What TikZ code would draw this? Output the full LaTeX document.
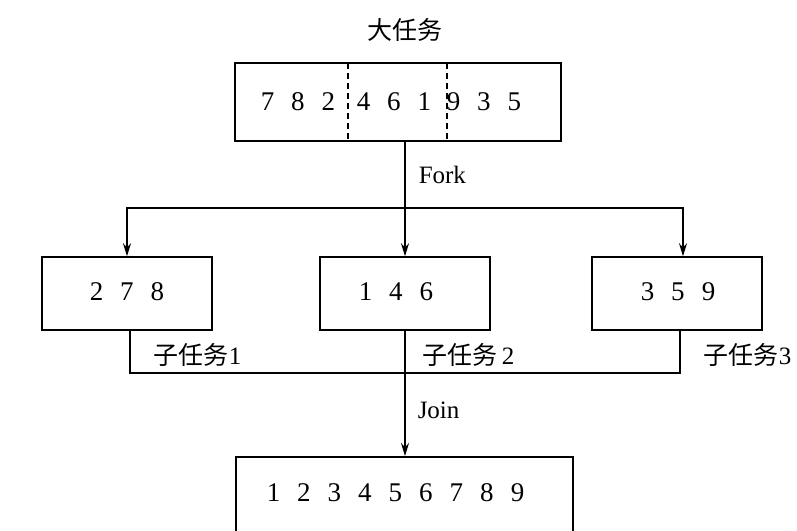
\documentclass[tikz,border=0pt]{standalone}
\usepackage{fontspec}
\setmainfont{Liberation Serif}
\newfontfamily\cjk{Noto Sans CJK SC}
\usetikzlibrary{arrows.meta,calc}
\newcommand{\numcell}[1]{\makebox[30.5pt]{#1}}
\begin{document}
\begin{tikzpicture}[x=1pt,y=-1pt,
  line width=1.5pt,
  box/.style={draw,rectangle,minimum height=73pt,minimum width=170pt,inner sep=0pt},
  txt/.style={font=\fontsize{25}{30}\selectfont,inner sep=0pt},
  num/.style={font=\fontsize{27}{32}\selectfont,inner sep=0pt},
  lbl/.style={txt,anchor=west},
  arr/.style={-{Stealth[length=13pt,width=8pt]}}]
\useasboundingbox (0,0) rectangle (797,530);
\clip (0,0) rectangle (797,530);
% title
\node[txt] (title) at (405,30) {\cjk 大任务};
% top box
\node[draw,rectangle,minimum width=326pt,minimum height=78pt,inner sep=0pt] (top) at (398,102) {};
\draw[dash pattern=on 6pt off 4pt,line width=1.2pt] (348,63) -- (348,141);
\draw[dash pattern=on 6pt off 4pt,line width=1.2pt] (447,63) -- (447,141);
\node[num] (g1) at (298,102) {\numcell{7}\numcell{8}\numcell{2}};
\node[num] (g2) at (394,102) {\numcell{4}\numcell{6}\numcell{1}};
\node[num] (g3) at (484,102) {\numcell{9}\numcell{3}\numcell{5}};
% sub boxes
\node[box] (left) at (127,293.5) {};
\node[box] (mid) at (405,293.5) {};
\node[box] (right) at (677,293.5) {};
\node[num] (n1) at (127,292) {\numcell{2}\numcell{7}\numcell{8}};
\node[num] (n2) at (396,292) {\numcell{1}\numcell{4}\numcell{6}};
\node[num] (n3) at (678,292) {\numcell{3}\numcell{5}\numcell{9}};
% bottom box
\node[draw,rectangle,minimum width=337pt,minimum height=120pt,inner sep=0pt,anchor=north] (bot) at (404.5,456) {};
\node[num] (n4) at (395.5,493) {\numcell{1}\numcell{2}\numcell{3}\numcell{4}\numcell{5}\numcell{6}\numcell{7}\numcell{8}\numcell{9}};
% connectors
\coordinate (fk) at (405,208);
\coordinate (jn) at (405,373);
\draw (top.south -| fk) -- (fk);
\draw[arr] (fk) -- (mid.north);
\draw[arr] (fk) -| (left.north);
\draw[arr] (fk) -| ($(right.north)+(6,0)$);
\draw ($(left.south)+(3,0)$) |- (jn);
\draw ($(right.south)+(3,0)$) |- (jn);
\draw (mid.south) -- (jn);
\draw[arr] (jn) -- (bot.north -| jn);
% labels
\node[lbl] (fork) at (418,175) {Fork};
\node[lbl] (join) at (417,410) {Join};
\node[lbl] (s1) at (153,355) {\cjk 子任务\rmfamily 1};
\node[lbl] (s2) at (422,355) {\cjk 子任务\rmfamily\,2};
\node[lbl] (s3) at (703,355) {\cjk 子任务\rmfamily 3};
\end{tikzpicture}
\end{document}
